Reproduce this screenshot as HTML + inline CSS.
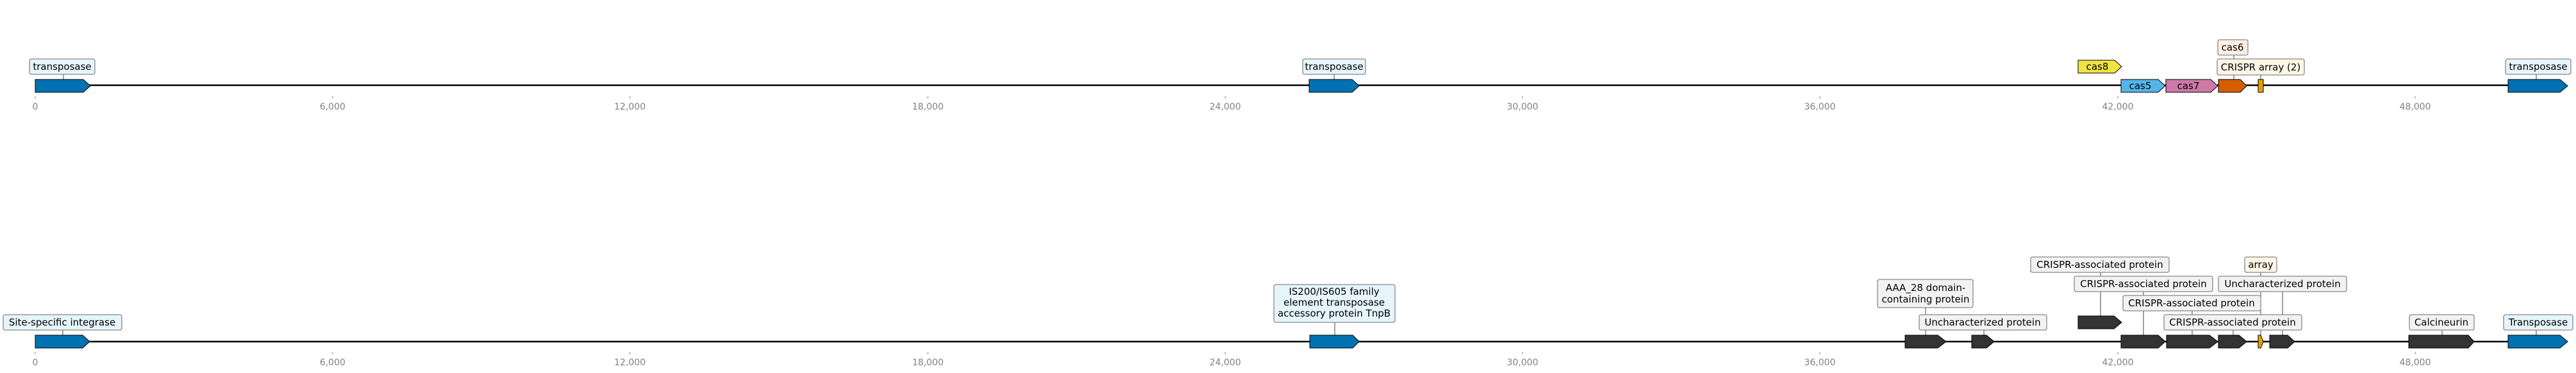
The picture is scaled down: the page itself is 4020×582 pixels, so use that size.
<!DOCTYPE html>
<html><head><meta charset="utf-8"><style>
html,body{margin:0;padding:0;background:#fff;}
svg{display:block;}
text{font-family:"DejaVu Sans","Liberation Sans",sans-serif;}
</style></head><body>
<svg width="4020" height="582" viewBox="0 0 4020 582" xmlns="http://www.w3.org/2000/svg">
<g stroke="#444" stroke-width="1">
<!-- row1 leader lines -->
<line x1="99" y1="116" x2="99" y2="124"/>
<line x1="2082" y1="116" x2="2082" y2="124"/>
<line x1="3486" y1="86" x2="3486" y2="124"/>
<line x1="3528" y1="117" x2="3528" y2="124"/>
<line x1="3958" y1="116" x2="3958" y2="124"/>
<!-- row2 leader lines -->
<line x1="98" y1="515" x2="98" y2="523"/>
<line x1="2083" y1="503" x2="2083" y2="523"/>
<line x1="3005" y1="480" x2="3005" y2="523"/>
<line x1="3096" y1="515" x2="3096" y2="523"/>
<line x1="3278" y1="425" x2="3278" y2="493"/>
<line x1="3345" y1="455" x2="3345" y2="523"/>
<line x1="3421" y1="485" x2="3421" y2="523"/>
<line x1="3485" y1="515" x2="3485" y2="523"/>
<line x1="3528" y1="425" x2="3528" y2="523"/>
<line x1="3562" y1="455" x2="3562" y2="523"/>
<line x1="3811" y1="515" x2="3811" y2="523"/>
<line x1="3958" y1="515" x2="3958" y2="523"/>
</g>
<!-- axes -->
<line x1="55" y1="133" x2="3914" y2="133" stroke="#000" stroke-width="2.5"/>
<line x1="55" y1="533" x2="3914" y2="533" stroke="#000" stroke-width="2.5"/>
<g stroke="#888" stroke-width="1">
<line x1="55" y1="150" x2="55" y2="154"/><line x1="519" y1="150" x2="519" y2="154"/><line x1="983" y1="150" x2="983" y2="154"/><line x1="1448" y1="150" x2="1448" y2="154"/><line x1="1912" y1="150" x2="1912" y2="154"/><line x1="2376" y1="150" x2="2376" y2="154"/><line x1="2840" y1="150" x2="2840" y2="154"/><line x1="3305" y1="150" x2="3305" y2="154"/><line x1="3769" y1="150" x2="3769" y2="154"/>
<line x1="55" y1="549" x2="55" y2="553"/><line x1="519" y1="549" x2="519" y2="553"/><line x1="983" y1="549" x2="983" y2="553"/><line x1="1448" y1="549" x2="1448" y2="553"/><line x1="1912" y1="549" x2="1912" y2="553"/><line x1="2376" y1="549" x2="2376" y2="553"/><line x1="2840" y1="549" x2="2840" y2="553"/><line x1="3305" y1="549" x2="3305" y2="553"/><line x1="3769" y1="549" x2="3769" y2="553"/>
</g>
<g font-size="14" fill="#808080" text-anchor="middle">
<text x="55" y="171">0</text><text x="519" y="171">6,000</text><text x="983" y="171">12,000</text><text x="1448" y="171">18,000</text><text x="1912" y="171">24,000</text><text x="2376" y="171">30,000</text><text x="2840" y="171">36,000</text><text x="3305" y="171">42,000</text><text x="3769" y="171">48,000</text>
<text x="55" y="570">0</text><text x="519" y="570">6,000</text><text x="983" y="570">12,000</text><text x="1448" y="570">18,000</text><text x="1912" y="570">24,000</text><text x="2376" y="570">30,000</text><text x="2840" y="570">36,000</text><text x="3305" y="570">42,000</text><text x="3769" y="570">48,000</text>
</g>
<!-- row1 genes -->
<g stroke="#000" stroke-width="1">
<polygon points="55,124 130,124 141,134 130,144 55,144" fill="#0072b2"/>
<polygon points="2043,124 2110,124 2121,134 2110,144 2043,144" fill="#0072b2"/>
<polygon points="3243,94 3300,94 3311,104 3300,114 3243,114" fill="#f0e442"/>
<polygon points="3310,124 3368,124 3379,134 3368,144 3310,144" fill="#56b4e9"/>
<polygon points="3380,124 3450,124 3461,134 3450,144 3380,144" fill="#cc79a7"/>
<polygon points="3462,124 3496,124 3506,134 3496,144 3462,144" fill="#d55e00"/>
<rect x="3524" y="124" width="8" height="20" fill="#e69f00"/>
<polygon points="3914,124 3995,124 4007,134 3995,144 3914,144" fill="#0072b2"/>
</g>
<g font-size="15" fill="#000" text-anchor="middle">
<text x="3273" y="109">cas8</text>
<text x="3340" y="139">cas5</text>
<text x="3415" y="139">cas7</text>
</g>
<!-- row2 genes -->
<g stroke="#000" stroke-width="1">
<polygon points="55,523 129,523 140,533 129,543 55,543" fill="#0072b2"/>
<polygon points="2044,523 2111,523 2121,533 2111,543 2044,543" fill="#0072b2"/>
<polygon points="2973,523 3024,523 3037,533 3024,543 2973,543" fill="#333"/>
<polygon points="3077,523 3100,523 3112,533 3100,543 3077,543" fill="#333"/>
<polygon points="3243,493 3299,493 3311,503 3299,513 3243,513" fill="#333"/>
<polygon points="3310,523 3368,523 3379,533 3368,543 3310,543" fill="#333"/>
<polygon points="3381,523 3448,523 3461,533 3448,543 3381,543" fill="#333"/>
<polygon points="3462,523 3494,523 3506,533 3494,543 3462,543" fill="#333"/>
<polygon points="3524,523 3528,523 3532,533 3528,543 3524,543" fill="#e69f00"/>
<polygon points="3542,523 3570,523 3581,533 3570,543 3542,543" fill="#333"/>
<polygon points="3759,523 3852,523 3861,533 3852,543 3759,543" fill="#333"/>
<polygon points="3914,523 3995,523 4007,533 3995,543 3914,543" fill="#0072b2"/>
</g>
<!-- label boxes -->
<g stroke="#888" stroke-width="1.3">
<rect x="46" y="92" width="102" height="24" rx="3" fill="#e6f4fc"/>
<rect x="2033" y="92" width="98" height="24" rx="3" fill="#e6f4fc"/>
<rect x="3461" y="62" width="47" height="24" rx="3" fill="#fdefe5"/>
<rect x="3460" y="92" width="136" height="25" rx="3" fill="#fdf6e6"/>
<rect x="3910" y="92" width="102" height="24" rx="3" fill="#e6f4fc"/>
<rect x="5" y="491" width="185" height="24" rx="3" fill="#e6f4fc"/>
<rect x="1988" y="444" width="189" height="59" rx="3" fill="#e6f4fc"/>
<rect x="2930" y="436" width="149" height="44" rx="3" fill="#f2f2f2"/>
<rect x="2995" y="491" width="199" height="24" rx="3" fill="#f2f2f2"/>
<rect x="3169" y="401" width="216" height="24" rx="3" fill="#f2f2f2"/>
<rect x="3237" y="431" width="216" height="24" rx="3" fill="#f2f2f2"/>
<rect x="3313" y="461" width="215" height="24" rx="3" fill="#f2f2f2"/>
<rect x="3377" y="491" width="215" height="24" rx="3" fill="#f2f2f2"/>
<rect x="3503" y="401" width="50" height="24" rx="3" fill="#fdf6e6"/>
<rect x="3462" y="431" width="200" height="24" rx="3" fill="#f2f2f2"/>
<rect x="3760" y="491" width="101" height="24" rx="3" fill="#f2f2f2"/>
<rect x="3907" y="491" width="108" height="24" rx="3" fill="#e6f4fc"/>
</g>
<g font-size="15" fill="#000" text-anchor="middle">
<text x="97" y="109">transposase</text>
<text x="2082" y="109">transposase</text>
<text x="3484" y="79">cas6</text>
<text x="3528" y="110">CRISPR array (2)</text>
<text x="3961" y="109">transposase</text>
<text x="97" y="508">Site-specific integrase</text>
<text x="2082" y="460">IS200/IS605 family</text>
<text x="2082" y="477">element transposase</text>
<text x="2082" y="494">accessory protein TnpB</text>
<text x="3005" y="454">AAA_28 domain-</text>
<text x="3005" y="472">containing protein</text>
<text x="3094" y="508">Uncharacterized protein</text>
<text x="3277" y="418">CRISPR-associated protein</text>
<text x="3345" y="448">CRISPR-associated protein</text>
<text x="3420" y="478">CRISPR-associated protein</text>
<text x="3484" y="508">CRISPR-associated protein</text>
<text x="3528" y="418">array</text>
<text x="3562" y="448">Uncharacterized protein</text>
<text x="3810" y="508">Calcineurin</text>
<text x="3961" y="508">Transposase</text>
</g>
</svg>
</body></html>
